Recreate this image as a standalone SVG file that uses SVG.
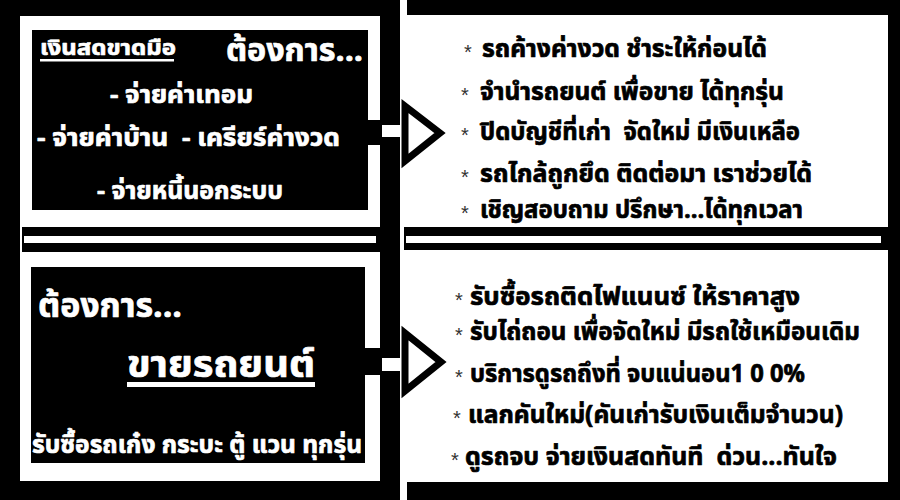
<svg xmlns="http://www.w3.org/2000/svg" width="900" height="500" viewBox="0 0 900 500">
  <style>
    .th { font-family: "Noto Sans Thai", "Noto Sans Thai Looped", "Loma", "Garuda", "Noto Sans", "DejaVu Sans", sans-serif; font-weight: bold; stroke-width: 0.7px; stroke-linejoin: round; }
    .w { fill: #ffffff; stroke: #ffffff; }
    .k { fill: #000000; stroke: #000000; }
    .ast { font-family: "Liberation Sans", Arial, sans-serif; font-size: 20px; fill: #333333; }
  </style>
  <rect x="0" y="0" width="900" height="500" fill="#000000"/>

  <g id="panel-left">
    <rect x="20" y="16" width="360" height="465" fill="#ffffff"/>
  </g>

  <g id="box-cash">
    <rect x="32" y="30" width="336" height="180" fill="#000000"/>
    <text class="th w" x="40" y="55" font-size="22" textLength="136" lengthAdjust="spacingAndGlyphs">เงินสดขาดมือ</text>
    <rect x="40" y="59" width="134" height="2.5" fill="#ffffff"/>
    <text class="th w" x="226" y="61" font-size="31" textLength="137" lengthAdjust="spacingAndGlyphs">ต้องการ...</text>
    <text class="th w" x="110" y="103" font-size="24" textLength="143" lengthAdjust="spacingAndGlyphs">- จ่ายค่าเทอม</text>
    <text class="th w" x="37" y="146" font-size="24" textLength="303" lengthAdjust="spacingAndGlyphs" xml:space="preserve">- จ่ายค่าบ้าน  - เครียร์ค่างวด</text>
    <text class="th w" x="97" y="199" font-size="24" textLength="186" lengthAdjust="spacingAndGlyphs">- จ่ายหนี้นอกระบบ</text>
  </g>

  <g id="separators">
    <rect x="22" y="227" width="358" height="25" fill="#000000"/>
    <rect x="24" y="236" width="352" height="7" fill="#ffffff"/>
  </g>

  <g id="box-sell">
    <rect x="31" y="267" width="334" height="196" fill="#000000"/>
    <text class="th w" x="38" y="317" font-size="33" textLength="144" lengthAdjust="spacingAndGlyphs">ต้องการ...</text>
    <text class="th w" x="127" y="377" font-size="38" textLength="188" lengthAdjust="spacingAndGlyphs">ขายรถยนต์</text>
    <rect x="127" y="382" width="188" height="5" fill="#ffffff"/>
    <text class="th w" x="32" y="453" font-size="24" textLength="330" lengthAdjust="spacingAndGlyphs">รับซื้อรถเก๋ง กระบะ ตู้ แวน ทุกรุ่น</text>
  </g>

  <g id="divider-strip">
    <rect x="400" y="0" width="7" height="500" fill="#ffffff"/>
  </g>

  <g id="panel-right-top">
    <rect x="407" y="15" width="481" height="212" fill="#ffffff"/>
    <text class="ast" x="464" y="59">*</text>
    <text class="th k" x="482" y="57" font-size="24" textLength="285" lengthAdjust="spacingAndGlyphs">รถค้างค่างวด ชำระให้ก่อนได้</text>
    <text class="ast" x="461" y="102">*</text>
    <text class="th k" x="480" y="100" font-size="24" textLength="304" lengthAdjust="spacingAndGlyphs">จำนำรถยนต์ เพื่อขาย ได้ทุกรุ่น</text>
    <text class="ast" x="461" y="142">*</text>
    <text class="th k" x="480" y="140" font-size="24" textLength="320" lengthAdjust="spacingAndGlyphs" xml:space="preserve">ปิดบัญชีที่เก่า  จัดใหม่ มีเงินเหลือ</text>
    <text class="ast" x="461" y="184">*</text>
    <text class="th k" x="480" y="182" font-size="24" textLength="332" lengthAdjust="spacingAndGlyphs">รถไกล้ถูกยึด ติดต่อมา เราช่วยได้</text>
    <text class="ast" x="461" y="220">*</text>
    <text class="th k" x="480" y="218" font-size="24" textLength="323" lengthAdjust="spacingAndGlyphs">เชิญสอบถาม ปรึกษา...ได้ทุกเวลา</text>
  </g>

  <g id="panel-right-bottom">
    <rect x="404" y="227" width="480" height="23" fill="#000000"/>
    <rect x="406" y="236" width="475" height="7" fill="#ffffff"/>
    <rect x="407" y="250" width="481" height="232" fill="#ffffff"/>
    <text class="ast" x="455" y="307">*</text>
    <text class="th k" x="470" y="305" font-size="25" textLength="330" lengthAdjust="spacingAndGlyphs">รับซื้อรถติดไฟแนนซ์ ให้ราคาสูง</text>
    <text class="ast" x="455" y="342">*</text>
    <text class="th k" x="470" y="340" font-size="25" textLength="390" lengthAdjust="spacingAndGlyphs">รับไถ่ถอน เพื่อจัดใหม่ มีรถใช้เหมือนเดิม</text>
    <text class="ast" x="455" y="384">*</text>
    <text class="th k" x="470" y="382" font-size="25" textLength="335" lengthAdjust="spacingAndGlyphs">บริการดูรถถึงที่ จบแน่นอน1 0 0%</text>
    <text class="ast" x="453" y="425">*</text>
    <text class="th k" x="468" y="423" font-size="25" textLength="375" lengthAdjust="spacingAndGlyphs">แลกคันใหม่(คันเก่ารับเงินเต็มจำนวน)</text>
    <text class="ast" x="451" y="467">*</text>
    <text class="th k" x="465" y="465" font-size="25" textLength="372" lengthAdjust="spacingAndGlyphs" xml:space="preserve">ดูรถจบ จ่ายเงินสดทันที  ด่วน...ทันใจ</text>
  </g>

  <g id="connectors">
    <rect x="368" y="120" width="14" height="25" fill="#000000"/>
    <rect x="382" y="125" width="18" height="12" fill="#ffffff"/>
    <polygon points="405,106 405,161 440,133" fill="#ffffff" stroke="#000000" stroke-width="7" stroke-linejoin="miter"/>
    <rect x="365" y="348" width="17" height="27" fill="#000000"/>
    <rect x="382" y="358" width="18" height="13" fill="#ffffff"/>
    <polygon points="405,333 405,391 441,362" fill="#ffffff" stroke="#000000" stroke-width="7" stroke-linejoin="miter"/>
  </g>
</svg>
